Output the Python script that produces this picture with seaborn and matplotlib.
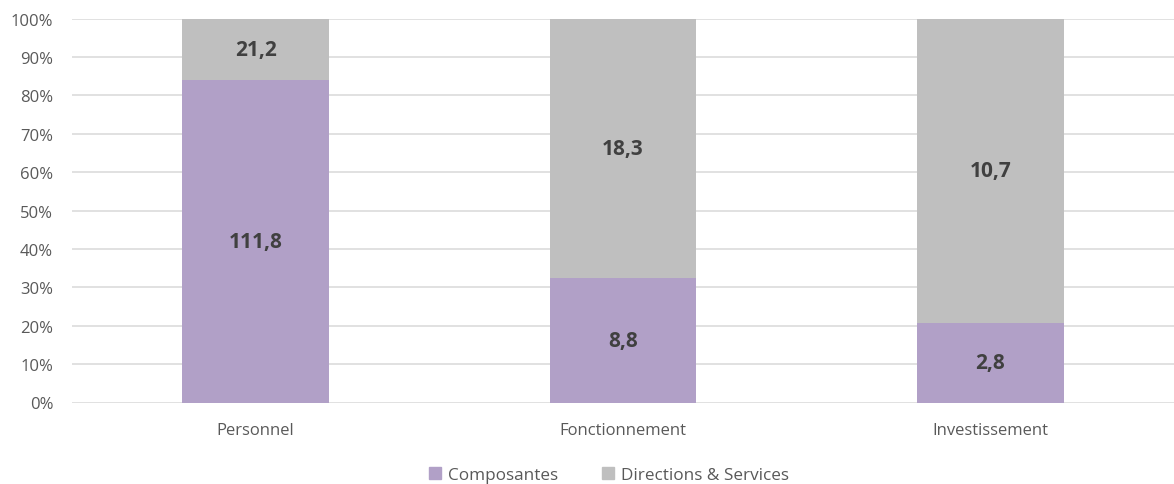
import matplotlib
matplotlib.use("Agg")
import matplotlib.pyplot as plt
import seaborn as sns
import pandas as pd
from matplotlib.ticker import PercentFormatter, MultipleLocator

categories = ["Personnel", "Fonctionnement", "Investissement"]
composantes = [111.8, 8.8, 2.8]
directions = [21.2, 18.3, 10.7]
series_names = ["Composantes", "Directions & Services"]
colors = ["#B1A0C7", "#BFBFBF"]

totals = [a + b for a, b in zip(composantes, directions)]
df = pd.DataFrame({
    "cat": categories,
    "comp_pct": [a / t * 100 for a, t in zip(composantes, totals)],
    "total_pct": [100.0] * len(categories),
})

sns.set_theme(style="white")
plt.rcParams["font.family"] = ["Open Sans", "DejaVu Sans"]

fig = plt.figure(figsize=(11.74, 4.85), dpi=100)
ax = fig.add_axes([72 / 1174, 81.5 / 485, (1174 - 72) / 1174, (465.5 - 81.5) / 485])

# Stacked 100% bars: draw the full-height back series, then the front series
sns.barplot(data=df, x="cat", y="total_pct", color=colors[1], width=0.4,
            saturation=1, linewidth=0, ax=ax, zorder=2)
sns.barplot(data=df, x="cat", y="comp_pct", color=colors[0], width=0.4,
            saturation=1, linewidth=0, ax=ax, zorder=3)

ax.set_ylim(0, 100)
ax.set_xlim(-0.5, 2.5)
ax.yaxis.set_major_locator(MultipleLocator(10))
ax.yaxis.set_major_formatter(PercentFormatter(decimals=0))
ax.grid(axis="y", color="#D9D9D9", linewidth=1.1, zorder=0)
ax.set_axisbelow(True)
ax.set_xlabel("")
ax.set_ylabel("")
for s in ax.spines.values():
    s.set_visible(False)
ax.tick_params(axis="both", length=0, labelsize=12, labelcolor="#595959")
ax.tick_params(axis="y", pad=13.5)
ax.tick_params(axis="x", pad=14)

def fmt(v):
    return f"{v:.1f}".replace(".", ",")

for i, (c, d) in enumerate(zip(composantes, directions)):
    cp = df["comp_pct"][i]
    ax.text(i, cp / 2, fmt(c), ha="center", va="center", fontsize=15,
            fontweight="bold", color="#404040", zorder=5)
    ax.text(i, cp + (100 - cp) / 2, fmt(d), ha="center", va="center", fontsize=15,
            fontweight="bold", color="#404040", zorder=5)

handles = [plt.Rectangle((0, 0), 1, 1, color=c) for c in colors]
fig.legend(handles, series_names, loc="center", bbox_to_anchor=(609 / 1174, 1 - 476 / 485),
           ncol=2, frameon=False, fontsize=12.3, labelcolor="#595959",
           handlelength=0.7, handleheight=0.7, handletextpad=0.4, columnspacing=2.6)

fig.savefig("out.png", dpi=100)
